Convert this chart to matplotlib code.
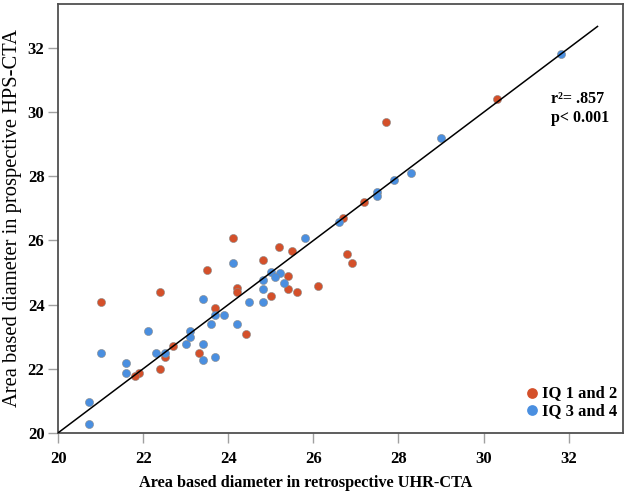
import matplotlib as mpl
mpl.use('Agg')
import matplotlib.pyplot as plt
import numpy as np

# -- Fonts: Times-like bold serif
mpl.rcParams['font.family'] = 'Liberation Serif'
mpl.rcParams['font.weight'] = 'bold'

# -- Data
# IQ 1 and 2 (red)
x_iq12 = [24.10, 23.50, 24.20, 24.20, 22.40, 21.00, 23.69, 24.41, 22.70, 23.31,
          22.50, 22.40, 21.90, 21.80, 27.20, 26.70, 25.20, 25.50, 24.81, 26.80,
          26.91, 25.41, 25.41, 25.61, 26.11, 25.01, 30.31, 27.70]
y_iq12 = [26.09, 25.09, 24.51, 24.40, 24.38, 24.08, 23.88, 23.08, 22.69, 22.48,
          22.37, 21.99, 21.87, 21.78, 27.19, 26.69, 25.79, 25.68, 25.38, 25.58,
          25.29, 24.88, 24.48, 24.38, 24.58, 24.28, 30.41, 29.69]

# IQ 3 and 4 (blue)
x_iq34 = [24.10, 24.49, 23.41, 23.69, 23.90, 23.60, 24.20, 22.10, 23.10, 23.10,
          23.00, 23.41, 22.30, 22.50, 21.00, 23.41, 23.69, 21.60, 21.60, 20.71,
          20.71, 28.30, 27.90, 27.49, 27.49, 26.60, 25.81, 25.00, 25.21, 25.10,
          24.81, 25.30, 24.81, 24.81, 31.81, 29.01]
y_iq34 = [25.29, 24.08, 24.18, 23.67, 23.67, 23.38, 23.38, 23.18, 23.18, 22.98,
          22.77, 22.77, 22.48, 22.48, 22.48, 22.28, 22.37, 22.18, 21.87, 20.97,
          20.27, 28.10, 27.89, 27.51, 27.38, 26.59, 26.09, 25.00, 24.98, 24.87,
          24.78, 24.68, 24.48, 24.07, 31.81, 29.20]

ticks = [20, 22, 24, 26, 28, 30, 32]
line_end = 32.68

# -- Plot
fig = plt.figure(figsize=(6.29, 4.95), dpi=100)
ax = fig.add_axes([0.0927, 0.1259, 0.8978, 0.8660])

ax.scatter(x_iq12, y_iq12, s=34, c='#d4502a', edgecolors='#8a8a8a',
           linewidths=0.4, zorder=2, label='IQ 1 and 2')
ax.scatter(x_iq34, y_iq34, s=34, c='#4a8fe0', edgecolors='#8a8a8a',
           linewidths=0.4, zorder=2, label='IQ 3 and 4')
ax.plot([20, line_end], [20, line_end], color='black', lw=1.1, zorder=3)

ax.set_xlim(20, 33.28)
ax.set_ylim(20, 33.38)
ax.set_xticks(ticks)
ax.set_yticks(ticks)
ax.tick_params(axis='x', length=7, width=1, color='#a0a0a0', pad=6.5, labelsize=12)
ax.tick_params(axis='y', length=7, width=1, color='#a0a0a0', pad=3, labelsize=12)
for s in ax.spines.values():
    s.set_color('#505050')
    s.set_linewidth(1.3)

# -- Axis labels (placed in figure pixels to match the reference)
fig.text(305.5/629, 1 - 483/495, 'Area based diameter in retrospective UHR-CTA',
         fontsize=11.7, fontweight='bold', ha='center', va='center')
fig.text(13/629, 1 - 218/495, 'Area based diameter in prospective HPS-CTA',
         fontsize=14.8, fontweight='normal', ha='center', va='center',
         rotation=90)

ax.text(0.8725, 0.797, 'r²= .857\np< 0.001', transform=ax.transAxes,
        fontsize=11.5, fontweight='bold', va='top', ha='left', linespacing=1.25)

leg = ax.legend(loc='lower right', frameon=False, fontsize=12, handletextpad=0.1,
                handlelength=1.0, borderaxespad=0.3, labelspacing=0.1,
                bbox_to_anchor=(1.011, 0.005))
for h in leg.legend_handles:
    h.set_sizes([60])
    h.set_linewidth(0)

fig.savefig('out.png', dpi=100)
